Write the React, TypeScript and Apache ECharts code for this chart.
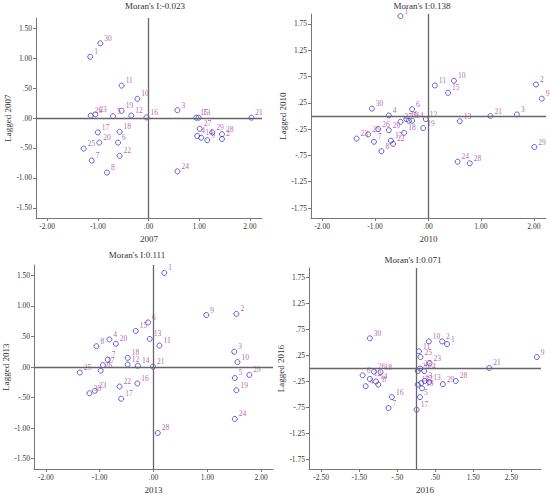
import React, { useEffect, useRef } from "react";
import * as echarts from "echarts";

const ids = [1,2,3,4,5,6,7,8,9,10,11,12,13,14,15,16,17,18,19,20,21,22,23,24,25,26,27,28,29,30];

const years = ["2007", "2010", "2013", "2016"];
const moranI = ["-0.023", "0.138", "0.111", "0.071"];

const x2007 = [-1.15,1.45,0.57,0.96,-0.70,-0.60,-1.12,-0.82,1.16,-0.22,-0.53,-0.34,0.99,1.04,0.94,-0.04,-1.00,-0.57,-0.53,-0.97,2.03,-0.57,-1.05,0.57,-1.28,-1.14,1.01,1.45,1.26,-0.95];
const lag2007 = [1.02,-0.35,0.13,-0.30,0.03,-0.41,-0.71,-0.91,-0.37,0.32,0.54,0.04,0.005,-0.33,0.005,0.01,-0.24,-0.23,0.12,-0.41,0.005,-0.63,0.06,-0.89,-0.51,0.04,-0.18,-0.27,-0.24,1.245];

const x2010 = [-0.52,2.04,1.68,-0.74,-0.36,-0.30,-1.02,-0.88,2.15,0.49,0.13,-0.04,0.60,-0.30,0.38,-0.41,-0.70,-0.45,-0.09,-0.74,1.18,-0.66,-1.35,0.56,-1.13,-0.94,-0.52,0.79,2.01,-1.06];
const lag2010 = [1.90,0.60,0.03,0.01,-0.09,0.13,-0.49,-0.67,0.33,0.67,0.58,-0.06,-0.10,-0.09,0.44,-0.06,-0.47,-0.32,-0.23,-0.27,0.0,-0.53,-0.43,-0.87,-0.35,-0.25,-0.11,-0.90,-0.59,0.14];

const x2013 = [0.20,1.54,1.50,-0.82,1.51,-0.10,-0.85,-1.06,0.98,1.56,0.11,-0.48,-0.07,-0.29,-0.33,-0.30,-0.60,-0.48,1.54,-0.70,-0.01,-0.63,-1.09,1.51,-1.37,-0.98,-0.94,0.08,1.78,-1.19];
const lag2013 = [1.54,0.87,0.25,0.45,-0.18,0.73,0.12,0.34,0.85,0.08,0.35,0.04,0.46,0.02,0.59,-0.27,-0.52,0.15,-0.38,0.38,0.005,-0.32,-0.39,-0.85,-0.09,-0.06,0.03,-1.08,-0.13,-0.43];

const x2016 = [0.81,0.68,0.22,-1.33,0.10,-1.41,-0.73,-1.00,3.17,0.33,0.07,-1.22,0.34,-1.06,0.04,-0.64,0.01,-0.94,0.15,0.04,1.92,0.13,0.35,0.21,0.11,-1.11,0.10,1.04,0.70,-1.22];
const lag2016 = [0.47,0.52,-0.24,-0.34,-0.55,-0.13,-0.76,-0.31,0.22,0.52,0.33,-0.20,-0.26,-0.25,-0.31,-0.55,-0.79,-0.07,-0.38,-0.05,0.01,-0.28,0.10,-0.05,0.22,-0.06,0.00,-0.24,-0.30,0.58];

const yTicksA = [-1.5, -1, -0.5, 0, 0.5, 1, 1.5];
const yTicksB = [-1.75, -1.25, -0.75, -0.25, 0.25, 0.75, 1.25, 1.75];
const xTicksA = [-2, -1, 0, 1, 2];
const xTicksD = [-2.5, -1.5, -0.5, 0.5, 1.5, 2.5];

const xValues = [x2007, x2010, x2013, x2016];
const yValues = [lag2007, lag2010, lag2013, lag2016];
const xTickSets = [xTicksA, xTicksA, xTicksA, xTicksD];
const yTickSets = [yTicksA, yTicksB, yTicksA, yTicksB];

const FONT = "Liberation Serif";

const panels = [
  { left: 36, top: 18, width: 226, height: 200, xr: [-2.22, 2.24], yr: [-1.667, 1.667], tx: 155, ty: 1 },
  { left: 311, top: 14, width: 235, height: 204, xr: [-2.21, 2.23], yr: [-1.94, 1.94], tx: 422, ty: 1 },
  { left: 33, top: 265, width: 240, height: 204, xr: [-2.22, 2.22], yr: [-1.67, 1.67], tx: 137, ty: 250 },
  { left: 309, top: 268, width: 232, height: 201, xr: [-2.82, 3.28], yr: [-1.93, 1.93], tx: 413, ty: 255 },
];

const fmt = (v: number) => v.toFixed(2).replace(/^(-?)0\./, "$1.");

export default function App() {
  const ref = useRef<HTMLDivElement>(null);
  useEffect(() => {
    if (!ref.current) return;
    const chart = echarts.init(ref.current, null, { renderer: "svg" });
    const grid = panels.map((p) => ({ left: p.left, top: p.top, width: p.width, height: p.height, containLabel: false }));
    const xAxis = panels.map((p, i) => ({
      type: "value",
      gridIndex: i,
      min: p.xr[0],
      max: p.xr[1],
      name: years[i],
      nameLocation: "middle",
      nameGap: 16,
      nameTextStyle: { fontFamily: FONT, fontSize: 9, color: "#333" },
      axisLine: { show: true, onZero: false, lineStyle: { color: "#777", width: 1 } },
      axisTick: { show: true, customValues: xTickSets[i], length: 3, lineStyle: { color: "#777" } },
      axisLabel: { customValues: xTickSets[i], formatter: fmt, fontFamily: FONT, fontSize: 7.5, color: "#333", margin: 4 },
      splitLine: { show: false },
    }));
    const yAxis = panels.map((p, i) => ({
      type: "value",
      gridIndex: i,
      min: p.yr[0],
      max: p.yr[1],
      name: "Lagged " + years[i],
      nameLocation: "middle",
      nameGap: 24,
      nameTextStyle: { fontFamily: FONT, fontSize: 9, color: "#333" },
      axisLine: { show: true, onZero: false, lineStyle: { color: "#777", width: 1 } },
      axisTick: { show: true, customValues: yTickSets[i], length: 3, lineStyle: { color: "#777" } },
      axisLabel: { customValues: yTickSets[i], formatter: fmt, fontFamily: FONT, fontSize: 7.5, color: "#333", margin: 4 },
      splitLine: { show: false },
    }));
    const series = panels.map((_, i) => ({
      type: "scatter",
      xAxisIndex: i,
      yAxisIndex: i,
      data: ids.map((id, k) => [xValues[i][k], yValues[i][k], id]),
      symbol: "circle",
      symbolSize: 5,
      itemStyle: { color: "rgba(255,255,255,0)", borderColor: "#3b3bd0", borderWidth: 1 },
      label: {
        show: true,
        formatter: (p: any) => String(p.value[2]),
        position: "right",
        distance: 1,
        offset: [0, -5],
        fontFamily: FONT,
        fontSize: 7.5,
        color: "#a8359a",
      },
      markLine: {
        silent: true,
        symbol: ["none", "none"],
        label: { show: false },
        lineStyle: { color: "#666", type: "solid", width: 1.3 },
        data: [{ xAxis: 0 }, { yAxis: 0 }],
      },
      z: 3,
    }));
    const graphic = panels.map((p, i) => ({
      type: "text",
      x: p.tx,
      y: p.ty,
      style: { text: "Moran's I:" + moranI[i], textAlign: "center", fontFamily: FONT, fontSize: 9, fill: "#333" },
    }));
    chart.setOption({
      animation: false,
      backgroundColor: "#fff",
      grid,
      xAxis,
      yAxis,
      series,
      graphic,
    } as any);
    return () => chart.dispose();
  }, []);
  return <div ref={ref} style={{ position: "fixed", left: 0, top: 0, width: 550, height: 495 }} />;
}
